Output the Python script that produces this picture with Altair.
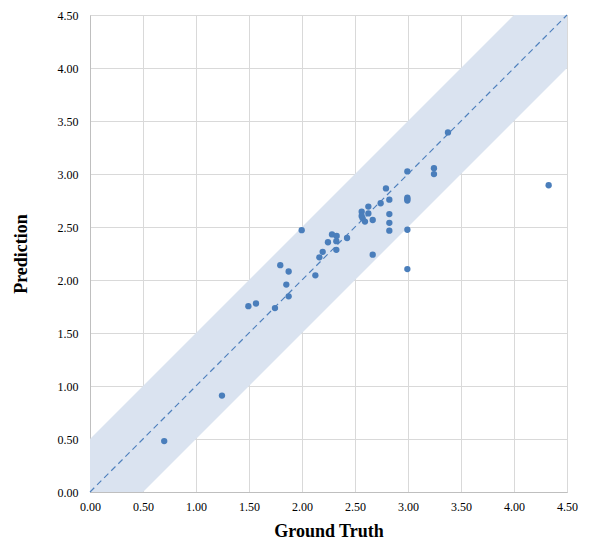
import altair as alt
import pandas as pd

ground_truth = [0.70, 1.245, 1.494, 1.566, 1.745, 1.795, 1.874, 1.852, 1.874, 1.997,
                2.126, 2.164, 2.195, 2.245, 2.283, 2.327, 2.324, 2.324, 2.425, 2.667,
                2.563, 2.563, 2.572, 2.594, 2.626, 2.626, 2.667, 2.742, 2.792, 2.824,
                2.824, 2.824, 2.824, 2.994, 2.994, 2.994, 2.994, 2.994, 2.994,
                3.245, 3.245, 3.377, 4.327]
prediction = [0.48, 0.91, 1.753, 1.778, 1.735, 2.14, 2.08, 1.957, 1.846, 2.47,
              2.044, 2.214, 2.266, 2.356, 2.43, 2.415, 2.366, 2.285, 2.396, 2.239,
              2.644, 2.604, 2.582, 2.551, 2.628, 2.693, 2.566, 2.724, 2.864, 2.758,
              2.622, 2.539, 2.465, 3.024, 2.777, 2.749, 2.763, 2.474, 2.103,
              3.055, 2.999, 3.392, 2.894]

axis_min, axis_max = 0.0, 4.5
band_half = 0.5
ticks = [0.0, 0.5, 1.0, 1.5, 2.0, 2.5, 3.0, 3.5, 4.0, 4.5]

pts = pd.DataFrame({"gt": ground_truth, "pred": prediction})

band_x = [axis_min, axis_min + band_half, axis_max - band_half, axis_max]
band_lo = [max(axis_min, v - band_half) for v in band_x]
band_hi = [min(axis_max, v + band_half) for v in band_x]
band = pd.DataFrame({"x": band_x, "lo": band_lo, "hi": band_hi})
diag = pd.DataFrame({"x": [axis_min, axis_max], "y": [axis_min, axis_max]})

FONT = "Liberation Serif"
BLUE = "#4a7ebb"

xscale = alt.Scale(domain=[axis_min, axis_max], nice=False)
yscale = alt.Scale(domain=[axis_min, axis_max], nice=False)

xaxis = alt.Axis(title="Ground Truth", values=ticks, format=".2f", tickSize=0,
                 labelPadding=9, titlePadding=10, labelFlush=False, labelOverlap=False)
yaxis = alt.Axis(title="Prediction", values=ticks, format=".2f", tickSize=0,
                 labelPadding=12, titlePadding=27, labelFlush=False, labelOverlap=False)

band_layer = alt.Chart(band).mark_area(color="#dae3f0", opacity=1).encode(
    x=alt.X("x:Q", scale=xscale, axis=xaxis),
    y=alt.Y("lo:Q", scale=yscale, axis=yaxis),
    y2="hi:Q",
)

line_layer = alt.Chart(diag).mark_line(color="#4f81bd", strokeWidth=1.2, strokeDash=[6, 4]).encode(
    x=alt.X("x:Q", scale=xscale),
    y=alt.Y("y:Q", scale=yscale),
)

pt_layer = alt.Chart(pts).mark_circle(color=BLUE, size=40, opacity=1).encode(
    x=alt.X("gt:Q", scale=xscale),
    y=alt.Y("pred:Q", scale=yscale),
)

chart = alt.layer(band_layer, line_layer, pt_layer).properties(
    width=477, height=477,
    background="white",
    autosize=alt.AutoSizeParams(type="none"),
    padding={"left": 82, "top": 7, "right": 15, "bottom": 52},
).configure_view(stroke="#d9d9d9", strokeWidth=1).configure_axis(
    grid=True, gridColor="#d9d9d9", gridWidth=1,
    domainColor="#bfbfbf",
    labelFont=FONT, labelFontSize=12, labelColor="#000000",
    titleFont=FONT, titleFontSize=18, titleFontWeight="bold", titleColor="#000000",
)

chart.save("out.html", embed_options={"renderer": "svg", "actions": False})
